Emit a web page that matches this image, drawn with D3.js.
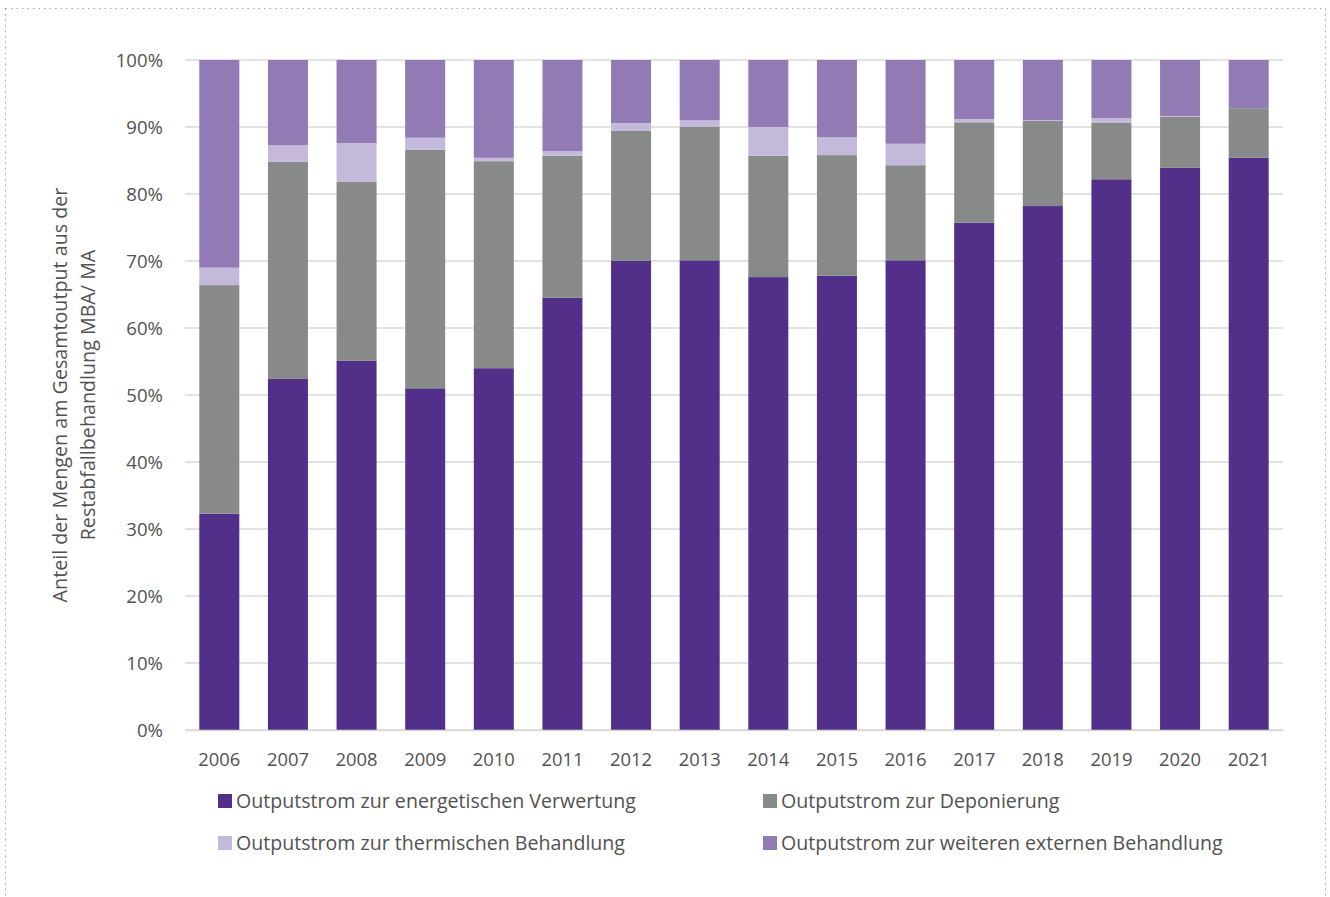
<!DOCTYPE html>
<html><head><meta charset="utf-8">
<script src="https://cdn.jsdelivr.net/npm/d3@7"></script>
<style>
html,body{margin:0;padding:0;background:#fff;}
svg{display:block;font-family:"Open Sans",sans-serif;}
</style></head>
<body><svg id="c" width="1330" height="897"></svg>
<script>
const years = ["2006","2007","2008","2009","2010","2011","2012","2013","2014","2015","2016","2017","2018","2019","2020","2021"];
const energetisch = [32.3,52.4,55.1,51.0,54.0,64.5,70.0,70.1,67.6,67.8,70.1,75.7,78.2,82.2,83.9,85.4];
const deponierung = [34.1,32.4,26.7,35.6,30.9,21.2,19.4,19.9,18.1,18.0,14.2,15.0,12.7,8.4,7.6,7.4];
const thermisch   = [2.6,2.5,5.8,1.8,0.5,0.7,1.2,1.0,4.3,2.7,3.2,0.5,0.15,0.7,0.15,0.0];
const extern      = [31.0,12.7,12.4,11.6,14.6,13.6,9.4,9.0,10.0,11.5,12.5,8.8,8.95,8.7,8.35,7.2];
const seriesNames = ["Outputstrom zur energetischen Verwertung","Outputstrom zur Deponierung","Outputstrom zur thermischen Behandlung","Outputstrom zur weiteren externen Behandlung"];
const seriesColors = ["#52308a","#888a89","#c4b9da","#927bb5"];
const yTicks = [0,10,20,30,40,50,60,70,80,90,100];

const keys = ["e","d","t","x"];
const rows = years.map((y,i)=>({year:y,e:energetisch[i],d:deponierung[i],t:thermisch[i],x:extern[i]}));
const stack = d3.stack().keys(keys)(rows);

const svg = d3.select("#c");
// dotted frame
svg.append("rect").attr("x",5.5).attr("y",8.5).attr("width",1320).attr("height",900)
  .attr("fill","none").attr("stroke","#a6a6a6").attr("stroke-width",1).attr("stroke-dasharray","1.5,4");

const x = d3.scaleBand().domain(years).range([185,1283]).paddingInner(0.417).paddingOuter(0.2085);
const y = d3.scaleLinear().domain([0,100]).range([730,60]);

// gridlines
svg.append("g").selectAll("line").data(yTicks).join("line")
  .attr("x1",185).attr("x2",1283).attr("y1",d=>y(d)).attr("y2",d=>y(d))
  .attr("stroke","#d9d9d9").attr("stroke-width",1.5);

// bars
svg.append("g").selectAll("g").data(stack).join("g")
  .attr("fill",(d,i)=>seriesColors[i])
  .selectAll("rect").data(d=>d).join("rect")
  .attr("x",d=>x(d.data.year)).attr("width",x.bandwidth())
  .attr("y",d=>y(d[1])).attr("height",d=>Math.max(0,y(d[0])-y(d[1])));

const txtCol = "#525252";
// y axis labels
const yAxis = d3.axisLeft(y).tickValues(yTicks).tickFormat(d=>d+"%").tickSize(0).tickPadding(0);
const ya = svg.append("g").attr("transform","translate(163,0)").call(yAxis);
ya.select(".domain").remove();
ya.selectAll("text").attr("font-size",18.6).attr("fill",txtCol).attr("font-family","'Open Sans',sans-serif").attr("dy","0.35em");

// x axis
const xAxis = d3.axisBottom(x).tickSize(0).tickPadding(0);
const xa = svg.append("g").attr("transform","translate(0,730)").call(xAxis);
xa.select(".domain").attr("stroke","#d9d9d9").attr("stroke-width",1.5);
xa.selectAll("text").attr("font-size",18.4).attr("fill",txtCol).attr("font-family","'Open Sans',sans-serif").attr("dy",0).attr("y",36);

// y title
const t = svg.append("text").attr("transform","translate(0,395) rotate(-90)")
  .attr("text-anchor","middle").attr("font-size",19.7).attr("fill",txtCol);
t.append("tspan").attr("x",0).attr("y",67).text("Anteil der Mengen am Gesamtoutput aus der");
t.append("tspan").attr("x",0).attr("y",95).text("Restabfallbehandlung MBA/ MA");

// legend
const legPos = [[218,801],[763,801],[218,843],[763,843]];
const leg = svg.append("g").selectAll("g").data(seriesNames).join("g")
  .attr("transform",(d,i)=>`translate(${legPos[i][0]},${legPos[i][1]})`);
leg.append("rect").attr("x",0).attr("y",-7).attr("width",14).attr("height",14).attr("fill",(d,i)=>seriesColors[i]);
leg.append("text").attr("x",18).attr("y",0).attr("dy","0.35em").attr("font-size",19.6).attr("fill",txtCol).text(d=>d);
</script></body></html>
